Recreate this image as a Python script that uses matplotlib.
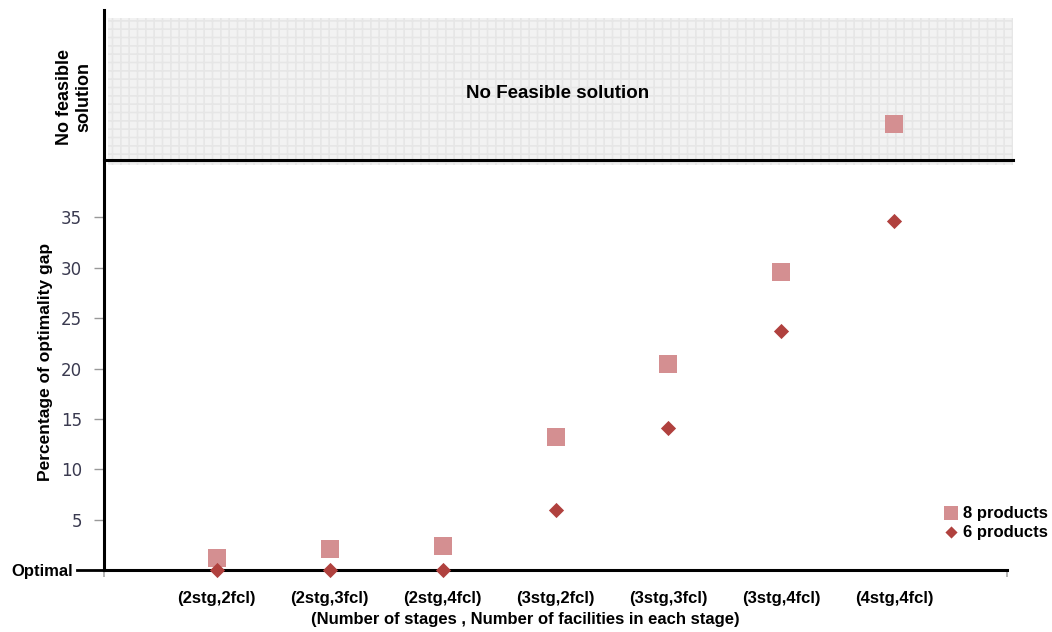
import matplotlib.pyplot as plt
import numpy as np

# categories on the x axis
categories = ['(2stg,2fcl)', '(2stg,3fcl)', '(2stg,4fcl)', '(3stg,2fcl)',
              '(3stg,3fcl)', '(3stg,4fcl)', '(4stg,4fcl)']
# optimality gap (%) ; the last 8-product value sits in the "no feasible" band
gap_8 = [1.2, 2.1, 2.4, 13.2, 20.5, 29.6, 44.3]
gap_6 = [0.0, 0.0, 0.0, 6.0, 14.1, 23.7, 34.7]
ytick_vals = [0, 5, 10, 15, 20, 25, 30, 35]
ytick_labels = ['Optimal', '5', '10', '15', '20', '25', '30', '35']

infeasible_lo = 40.2
infeasible_hi = 54.8
infeasible_line = 40.7

bold = dict(family=['Liberation Sans', 'DejaVu Sans'], fontweight='bold')

fig = plt.figure(figsize=(10.52, 6.32), dpi=100)
ax = fig.add_axes([104/1052, 62/632, 903/1052, 560/632])

x = np.arange(1, len(categories) + 1)

# grey "no feasible solution" band with a fine grid pattern
plt.rcParams['hatch.linewidth'] = 1.2
ax.axhspan(infeasible_lo, infeasible_hi, xmin=0.004, xmax=1.007,
           facecolor='#f2f2f2', edgecolor='#e6e6e6', hatch='++',
           linewidth=0, clip_on=False, zorder=0)
ax.axhline(infeasible_line, xmin=0, xmax=1.007, color='black', lw=2.2,
           clip_on=False, zorder=2)
ax.text(4.02, 47.3, 'No Feasible solution', ha='center', va='center',
        fontsize=13.5, **bold)
fig.text(74/1052, 1 - 97/632, 'No feasible\nsolution', rotation=90,
         ha='center', va='center', fontsize=13, linespacing=1.2, **bold)

ax.scatter(x, gap_8, marker='s', s=150, color='#d48f91', label='8 products',
           clip_on=False, zorder=3, linewidths=0)
ax.scatter(x, gap_6, marker='D', s=60, color='#b0413e', label='6 products',
           clip_on=False, zorder=3, linewidths=0)

ax.set_xlim(0, 8)
ax.set_ylim(0, 55.6)

for side in ['top', 'right']:
    ax.spines[side].set_visible(False)
ax.spines['left'].set_linewidth(2.2)
ax.spines['bottom'].set_linewidth(2.2)

ax.set_xticks(x)
ax.set_xticklabels(categories, fontsize=12, **bold)
ax.set_xticks(np.arange(0, 9), minor=True)
ax.tick_params(axis='x', which='major', length=0, pad=15)
ax.tick_params(axis='x', which='minor', length=5, color='#aaaaaa', width=1.2)

ax.set_yticks(ytick_vals)
ax.set_yticklabels(ytick_labels, fontsize=12, color='#3a3a50',
                   family='DejaVu Sans')
ax.tick_params(axis='y', length=7, color='#999999', width=1, pad=9)
t0 = ax.yaxis.get_major_ticks()[0]
t0.label1.set_color('black')
t0.label1.set_fontweight('bold')
t0.label1.set_family(['Liberation Sans', 'DejaVu Sans'])
t0.label1.set_fontsize(12)
t0.set_pad(15)
# longer black tick for the "Optimal" level
ax.plot([-27/903, 0], [0, 0], color='black', lw=2, clip_on=False,
        transform=ax.get_yaxis_transform())

ax.set_xlabel('(Number of stages , Number of facilities in each stage)',
              fontsize=12, **bold)
ax.xaxis.set_label_coords((525 - 104)/903, (570 - 612)/560)
fig.text(46/1052, 1 - 362/632, 'Percentage of optimality gap', rotation=90,
         ha='center', va='center', fontsize=12.5, **bold)

leg = ax.legend(loc='upper left', bbox_to_anchor=(832/903, (570-499)/560),
                frameon=False, handletextpad=0.2, labelspacing=0.25,
                borderaxespad=0, handlelength=1.0, markerscale=0.8,
                prop={'family': 'Liberation Sans', 'weight': 'bold', 'size': 12})

fig.savefig('out.png', dpi=100)
